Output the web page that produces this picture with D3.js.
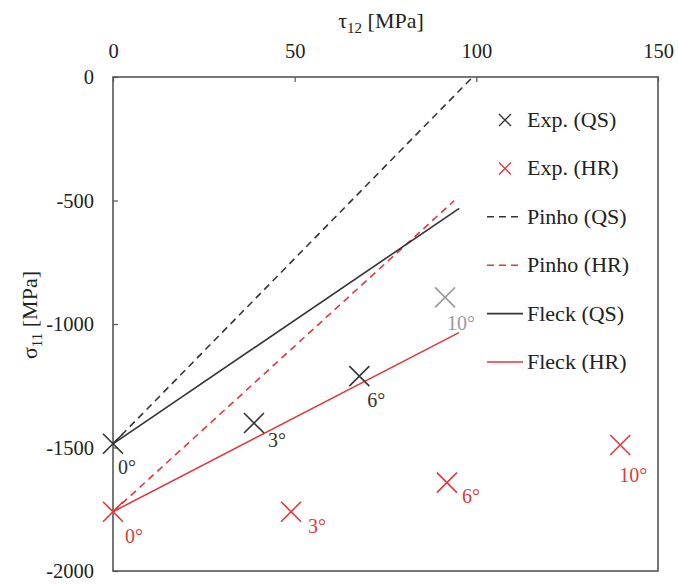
<!DOCTYPE html>
<html>
<head>
<meta charset="utf-8">
<script src="https://cdn.jsdelivr.net/npm/d3@7"></script>
<style>
  html, body { margin: 0; padding: 0; background: #fff; }
  svg text { font-family: "Liberation Serif", "Times New Roman", serif; }
</style>
</head>
<body>
<svg id="chart" width="678" height="584" font-family="Liberation Serif, serif"></svg>
<script>
// ---- data ----
const xTicks = [0, 50, 100, 150];
const yTicks = [0, -500, -1000, -1500, -2000];

const expQS_tau   = [0, 38.8, 67.8, 91.4];
const expQS_sigma = [-1485, -1401, -1211, -892];
const expQS_label = ["0°", "3°", "6°", "10°"];

const expHR_tau   = [0, 49, 91.9, 139.6];
const expHR_sigma = [-1760, -1760, -1642, -1490];
const expHR_label = ["0°", "3°", "6°", "10°"];

const pinhoQS_tau   = [0, 99];
const pinhoQS_sigma = [-1485, 0];
const pinhoHR_tau   = [0, 93.9];
const pinhoHR_sigma = [-1760, -501];
const fleckQS_tau   = [0, 95.3];
const fleckQS_sigma = [-1485, -532];
const fleckHR_tau   = [0, 95.2];
const fleckHR_sigma = [-1760, -1035];

const legendNames = ["Exp. (QS)", "Exp. (HR)", "Pinho (QS)", "Pinho (HR)", "Fleck (QS)", "Fleck (HR)"];

// ---- styling / layout (not data) ----
const BLACK = "#333333", RED = "#e0393b", GRAY = "#9a9a9a";
const qsMarkerColor = [BLACK, BLACK, BLACK, GRAY];
const qsLabelColor  = [BLACK, BLACK, BLACK, GRAY];
const qsLabelOff = [[5, 30], [14, 24], [8, 31], [2, 33]];
const hrLabelOff = [[12, 31], [17, 21], [15, 20], [-1, 37]];

const svg = d3.select("#chart");
const x = d3.scaleLinear().domain([0, 150]).range([113, 658]);
const y = d3.scaleLinear().domain([-2000, 0]).range([571, 77]);

// axes
const fmt = d => String(d);
const gx = svg.append("g").attr("transform", `translate(0,${y(0)})`)
  .call(d3.axisTop(x).tickValues(xTicks).tickFormat(fmt).tickSizeInner(-5).tickSizeOuter(0).tickPadding(19));
const gy = svg.append("g").attr("transform", `translate(${x(0)},0)`)
  .call(d3.axisLeft(y).tickValues(yTicks).tickFormat(fmt).tickSizeInner(-5).tickSizeOuter(0).tickPadding(19));
[gx, gy].forEach(g => {
  g.attr("font-family", "Liberation Serif, serif");
  g.select(".domain").remove();
  g.selectAll(".tick line").attr("stroke", "#555").attr("stroke-width", 1.2);
  g.selectAll(".tick text").attr("font-size", 20.5).attr("fill", "#222");
});

// frame
svg.append("rect")
  .attr("x", x(0)).attr("y", y(0))
  .attr("width", x(150) - x(0)).attr("height", y(-2000) - y(0))
  .attr("fill", "none").attr("stroke", "#555").attr("stroke-width", 1.6);

// axis titles
const tx = svg.append("text").attr("x", 381).attr("y", 28).attr("text-anchor", "middle")
  .attr("font-size", 22).attr("fill", "#222");
tx.append("tspan").text("τ");
tx.append("tspan").attr("font-size", 15).attr("dy", 5).text("12");
tx.append("tspan").attr("dy", -5).text(" [MPa]");

const ty = svg.append("text").attr("transform", "translate(37,315) rotate(-90)")
  .attr("text-anchor", "middle").attr("font-size", 22).attr("fill", "#222");
ty.append("tspan").text("σ");
ty.append("tspan").attr("font-size", 15).attr("dy", 5).text("11");
ty.append("tspan").attr("dy", -5).text(" [MPa]");

// lines
const line = d3.line().x(d => x(d[0])).y(d => y(d[1]));
function drawLine(taus, sigmas, color, dash) {
  svg.append("path").datum(taus.map((t, i) => [t, sigmas[i]]))
    .attr("d", line).attr("fill", "none").attr("stroke", color)
    .attr("stroke-width", 1.6).attr("stroke-dasharray", dash);
}
drawLine(pinhoQS_tau, pinhoQS_sigma, BLACK, "7,5");
drawLine(pinhoHR_tau, pinhoHR_sigma, RED, "7,5");
drawLine(fleckQS_tau, fleckQS_sigma, BLACK, null);
drawLine(fleckHR_tau, fleckHR_sigma, RED, null);

// markers
function cross(g, cx, cy, r, color, w) {
  g.append("path")
    .attr("d", `M${cx - r},${cy - r}L${cx + r},${cy + r}M${cx - r},${cy + r}L${cx + r},${cy - r}`)
    .attr("stroke", color).attr("stroke-width", w).attr("fill", "none");
}
const gm = svg.append("g");
expQS_tau.forEach((t, i) => {
  const px = x(t), py = y(expQS_sigma[i]);
  cross(gm, px, py, 10, qsMarkerColor[i], 1.6);
  gm.append("text").attr("x", px + qsLabelOff[i][0]).attr("y", py + qsLabelOff[i][1])
    .attr("font-size", 20).attr("fill", qsLabelColor[i]).text(expQS_label[i]);
});
expHR_tau.forEach((t, i) => {
  const px = x(t), py = y(expHR_sigma[i]);
  cross(gm, px, py, 10, RED, 1.6);
  gm.append("text").attr("x", px + hrLabelOff[i][0]).attr("y", py + hrLabelOff[i][1])
    .attr("font-size", 20).attr("fill", RED).text(expHR_label[i]);
});

// legend
const lg = svg.append("g");
const legY0 = 120, legStep = 48.4;
legendNames.forEach((name, i) => {
  const cy = legY0 + i * legStep;
  if (i < 2) {
    cross(lg, 505, cy, 6, i === 0 ? BLACK : RED, 1.4);
  } else {
    lg.append("line").attr("x1", 487).attr("x2", 523).attr("y1", cy).attr("y2", cy)
      .attr("stroke", (i % 2 === 0) ? BLACK : RED).attr("stroke-width", 1.6)
      .attr("stroke-dasharray", i < 4 ? "7,5" : null);
  }
  lg.append("text").attr("x", 527).attr("y", cy + 7).attr("font-size", 22)
    .attr("fill", "#222").text(name);
});
</script>
</body>
</html>
